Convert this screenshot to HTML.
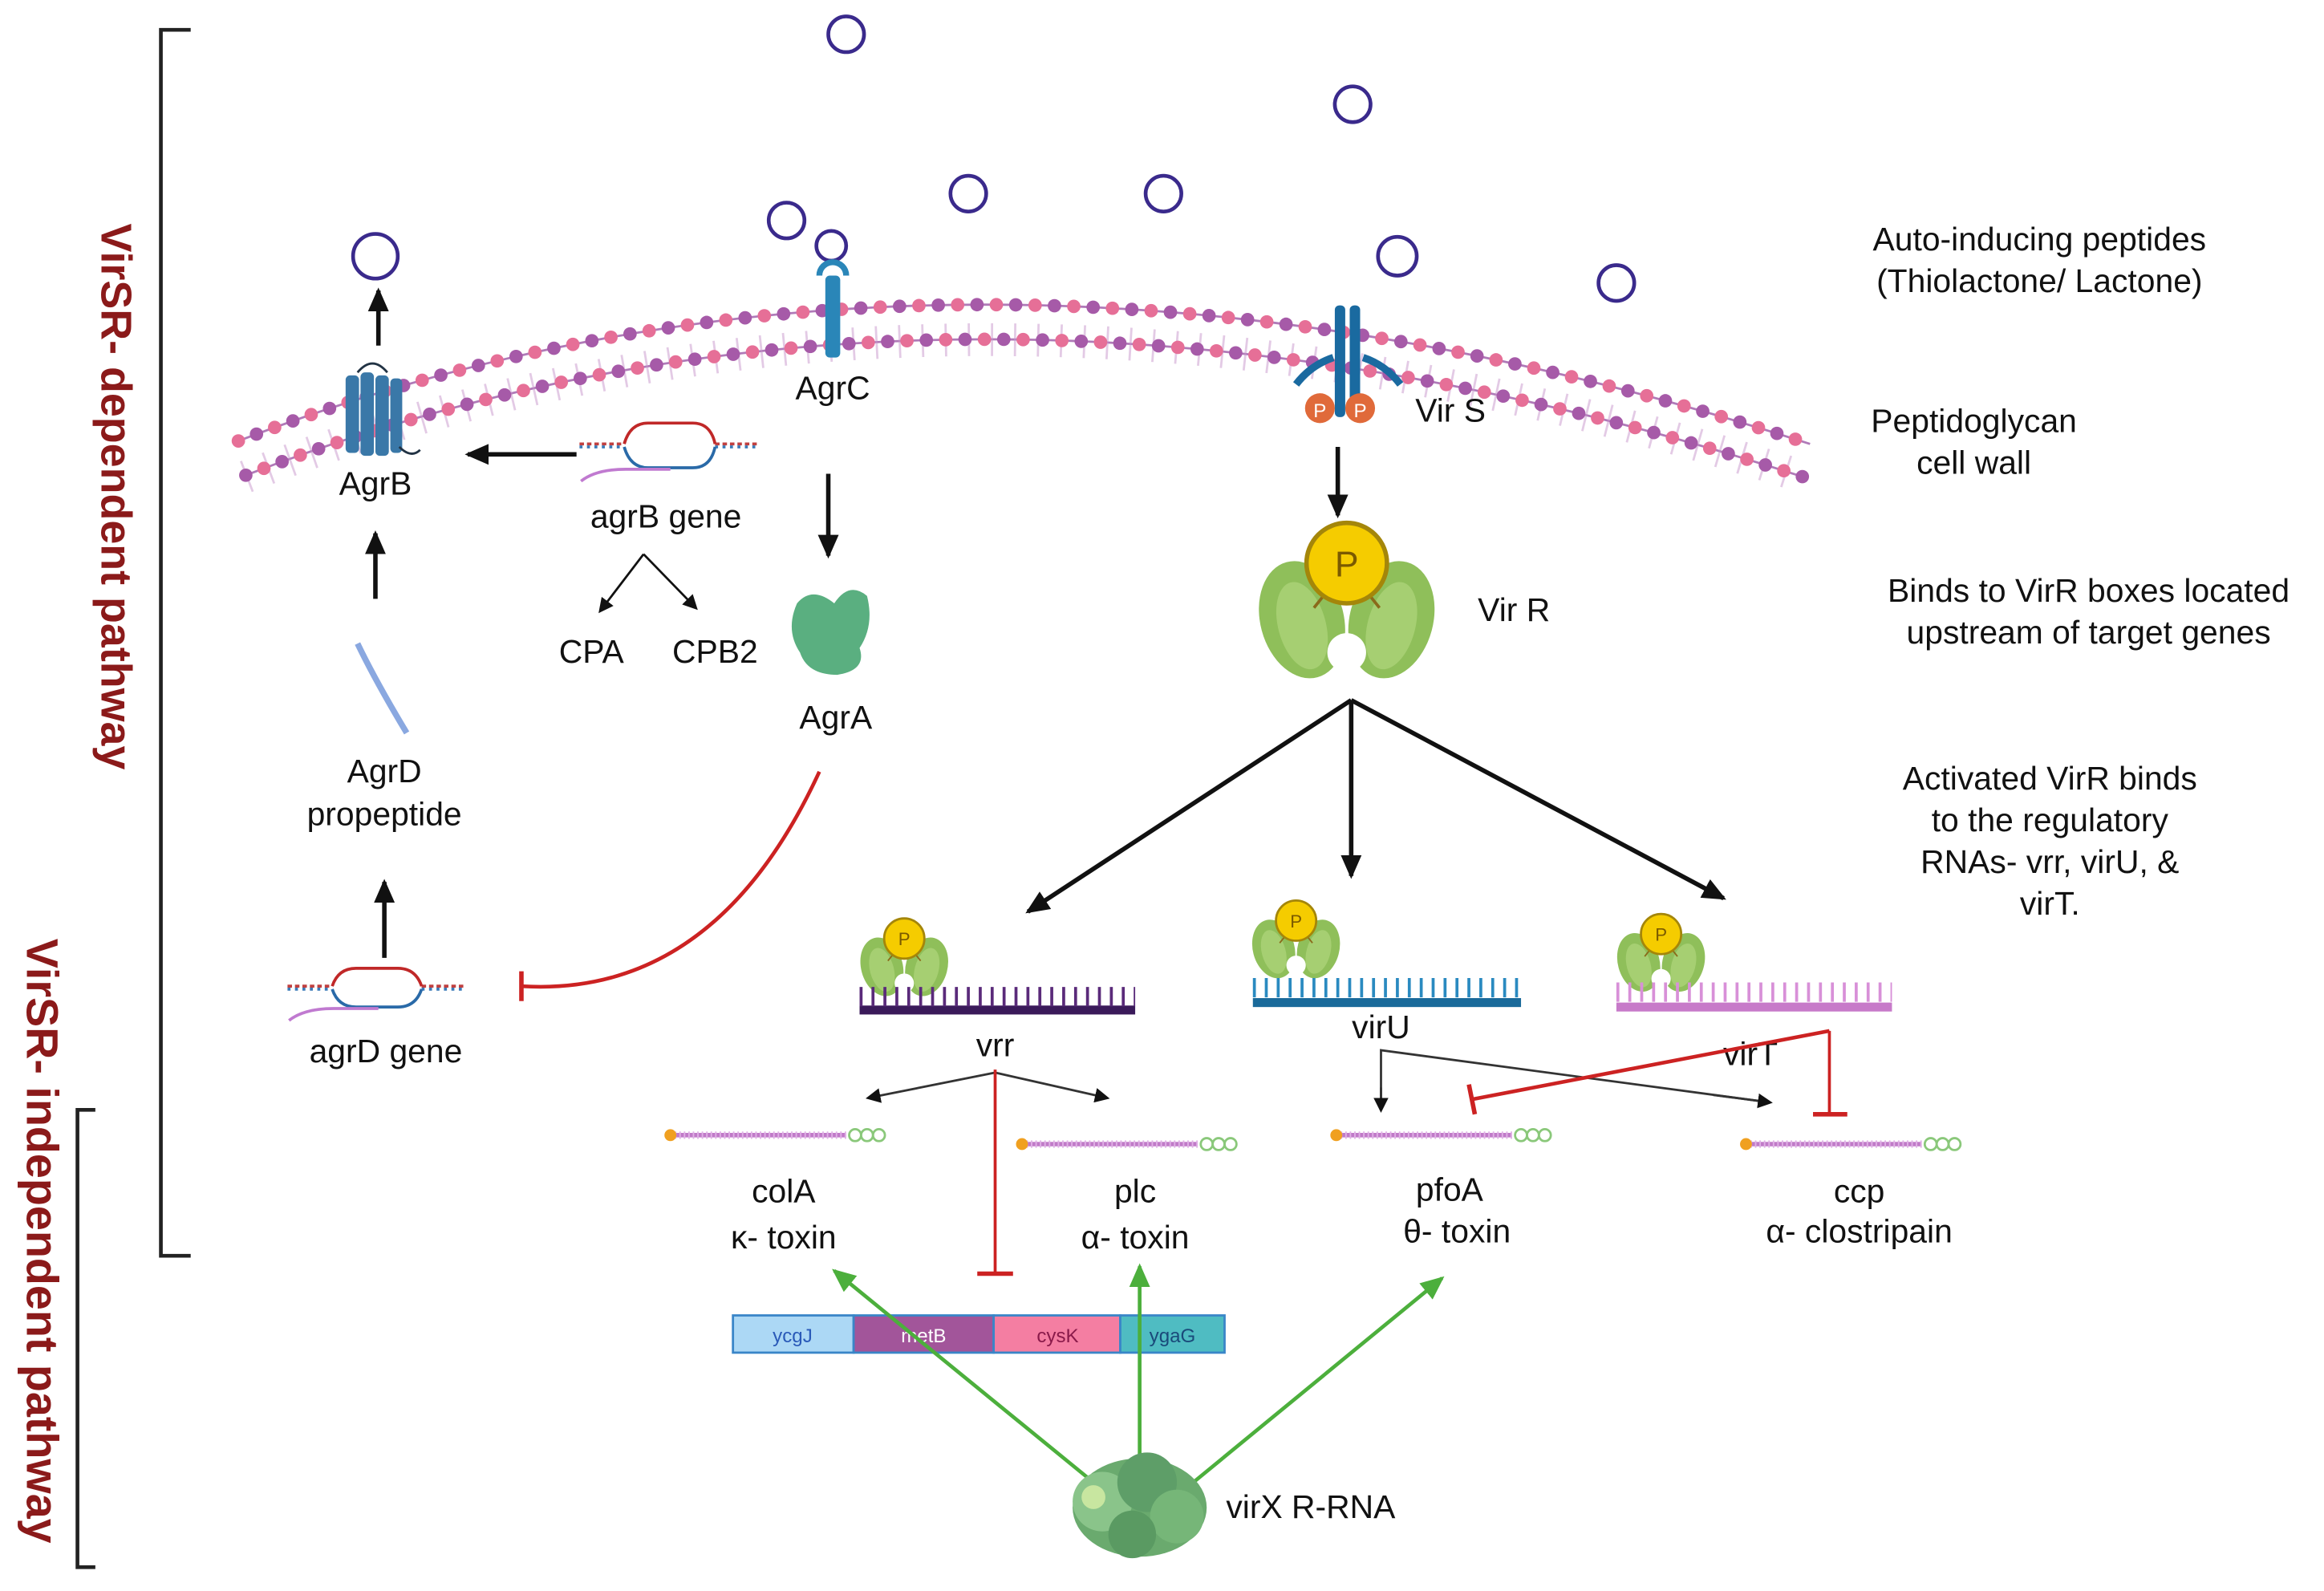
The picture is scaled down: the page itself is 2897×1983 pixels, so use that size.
<!DOCTYPE html>
<html><head><meta charset="utf-8"><style>
html,body{margin:0;padding:0;background:#fff;}
svg{display:block;}
text{font-family:"Liberation Sans",sans-serif;fill:#111;}
</style></head><body>
<svg width="2897" height="1983" viewBox="0 0 1560 1068" preserveAspectRatio="none" xmlns="http://www.w3.org/2000/svg">
<defs>
<marker id="ab" markerWidth="10" markerHeight="10" refX="8" refY="5" orient="auto" markerUnits="userSpaceOnUse"><path d="M0,0 L10,5 L0,10 z" fill="#111"/></marker>
<marker id="abL" markerWidth="16" markerHeight="14" refX="14" refY="7" orient="auto" markerUnits="userSpaceOnUse"><path d="M0,0 L16,7 L0,14 z" fill="#111"/></marker>
<marker id="ag" markerWidth="16" markerHeight="14" refX="14" refY="7" orient="auto" markerUnits="userSpaceOnUse"><path d="M0,0 L16,7 L0,14 z" fill="#4caf3c"/></marker>
<g id="vr">
<ellipse cx="-30" cy="18" rx="28" ry="40" fill="#8fbf5a" transform="rotate(-15 -30 18)"/>
<ellipse cx="30" cy="18" rx="28" ry="40" fill="#8fbf5a" transform="rotate(15 30 18)"/>
<ellipse cx="-30" cy="22" rx="16" ry="30" fill="#a6cf72" transform="rotate(-15 -30 22)"/>
<ellipse cx="30" cy="22" rx="16" ry="30" fill="#a6cf72" transform="rotate(15 30 22)"/>
<circle cx="0" cy="40" r="13" fill="#fff"/>
<line x1="-10" y1="-5" x2="-22" y2="10" stroke="#8a6a1a" stroke-width="2"/>
<line x1="10" y1="-5" x2="22" y2="10" stroke="#8a6a1a" stroke-width="2"/>
<circle cx="0" cy="-20" r="27" fill="#f5cc00" stroke="#a4860a" stroke-width="3"/>
<text x="0" y="-11" font-size="24" text-anchor="middle" style="fill:#7a5a00">P</text>
</g>
<g id="tg">
<line x1="0" y1="0" x2="118" y2="0" stroke="#c07ac8" stroke-width="3"/>
<line x1="0" y1="0" x2="118" y2="0" stroke="#e0b0e6" stroke-width="5" stroke-dasharray="1 2"/>
<circle cx="0" cy="0" r="4" fill="#f0a020"/>
<circle cx="124" cy="0" r="4" fill="none" stroke="#8ac87a" stroke-width="1.5"/>
<circle cx="132" cy="0" r="4" fill="none" stroke="#8ac87a" stroke-width="1.5"/>
<circle cx="140" cy="0" r="4" fill="none" stroke="#8ac87a" stroke-width="1.5"/>
</g>
</defs>

<!-- brackets -->
<path d="M128,20 H108 V843 H128" fill="none" stroke="#222" stroke-width="2.5"/>
<path d="M64,745 H52 V1052 H64" fill="none" stroke="#222" stroke-width="2.5"/>
<text transform="translate(68,150) rotate(90)" font-size="29" font-weight="bold" style="fill:#8b1a1a">VirSR- dependent pathway</text>
<text transform="translate(18,630) rotate(90)" font-size="30" font-weight="bold" style="fill:#8b1a1a">VirSR- independent pathway</text>

<!-- membrane -->
<path d="M160,296 Q640,112 1215,298" fill="none" stroke="#b07ab8" stroke-width="1.5"/>
<path d="M165,319 Q640,136 1210,320" fill="none" stroke="#b07ab8" stroke-width="1.5"/>
<path d="M165,320 Q640,136 1210,320" fill="none" stroke="#c896cc" stroke-width="22" stroke-dasharray="1.5 14" opacity="0.5"/>
<path d="M160,296 Q640,112 1215,298" fill="none" stroke="#e66f97" stroke-width="9" stroke-dasharray="0 26" stroke-linecap="round"/>
<path d="M160,296 Q640,112 1215,298" fill="none" stroke="#a65aa8" stroke-width="9" stroke-dasharray="0 26" stroke-dashoffset="13" stroke-linecap="round"/>
<path d="M165,319 Q640,136 1210,320" fill="none" stroke="#a65aa8" stroke-width="9" stroke-dasharray="0 26" stroke-linecap="round"/>
<path d="M165,319 Q640,136 1210,320" fill="none" stroke="#e66f97" stroke-width="9" stroke-dasharray="0 26" stroke-dashoffset="13" stroke-linecap="round"/>

<!-- peptides -->
<g fill="none" stroke="#3a2a8c" stroke-width="2.5">
<circle cx="568" cy="23" r="12"/><circle cx="908" cy="70" r="12"/><circle cx="650" cy="130" r="12"/>
<circle cx="781" cy="130" r="12"/><circle cx="528" cy="148" r="12"/><circle cx="558" cy="165" r="10"/>
<circle cx="938" cy="172" r="13"/><circle cx="1085" cy="190" r="12"/><circle cx="252" cy="172" r="15"/>
</g>

<!-- AgrB -->
<g fill="#3a78a8">
<rect x="232" y="252" width="9" height="52" rx="3"/><rect x="242" y="250" width="9" height="56" rx="3"/>
<rect x="252" y="252" width="9" height="54" rx="3"/><rect x="262" y="254" width="8" height="50" rx="3"/>
</g>
<path d="M240,250 q10,-12 20,0 M268,300 q8,8 14,2" fill="none" stroke="#234" stroke-width="1.5"/>
<text x="252" y="332" font-size="22" text-anchor="middle">AgrB</text>
<line x1="254" y1="232" x2="254" y2="195" stroke="#111" stroke-width="3" marker-end="url(#abL)"/>
<line x1="252" y1="402" x2="252" y2="358" stroke="#111" stroke-width="3" marker-end="url(#abL)"/>
<line x1="387" y1="305" x2="314" y2="305" stroke="#111" stroke-width="3" marker-end="url(#abL)"/>

<!-- AgrC -->
<rect x="554" y="185" width="10" height="55" rx="3" fill="#2a86b8"/>
<path d="M550,185 a9,9 0 1,1 18,0" fill="none" stroke="#2a86b8" stroke-width="4"/>
<text x="559" y="268" font-size="22" text-anchor="middle">AgrC</text>
<line x1="556" y1="318" x2="556" y2="373" stroke="#111" stroke-width="3" marker-end="url(#abL)"/>
<!-- AgrA -->
<path d="M535,405 q10,-12 25,0 q10,-15 22,-5 q5,20 -5,35 q5,15 -15,18 q-20,0 -25,-15 q-10,-15 -2,-33z" fill="#5aaf80"/>
<text x="561" y="489" font-size="22" text-anchor="middle">AgrA</text>

<!-- agrB gene -->
<path d="M389,298 h30 M480,298 h30" stroke="#c04040" stroke-width="2" stroke-dasharray="3 2"/>
<path d="M389,300 h30 M480,300 h30" stroke="#3a7ab8" stroke-width="2" stroke-dasharray="2 3"/>
<path d="M419,298 q4,-14 16,-14 h30 q12,0 15,14" fill="none" stroke="#c02828" stroke-width="2"/>
<path d="M419,300 q4,14 16,14 h30 q12,0 15,-14" fill="none" stroke="#2a6aa8" stroke-width="2"/>
<path d="M390,323 q10,-8 30,-8 h30" fill="none" stroke="#c07ad0" stroke-width="2"/>
<text x="447" y="354" font-size="22" text-anchor="middle">agrB gene</text>
<line x1="432" y1="372" x2="403" y2="410" stroke="#111" stroke-width="1.5" marker-end="url(#ab)"/>
<line x1="432" y1="372" x2="467" y2="408" stroke="#111" stroke-width="1.5" marker-end="url(#ab)"/>
<text x="397" y="445" font-size="22" text-anchor="middle">CPA</text>
<text x="480" y="445" font-size="22" text-anchor="middle">CPB2</text>

<!-- AgrD propeptide -->
<path d="M240,432 q12,25 33,60" stroke="#8aa8e0" stroke-width="4" fill="none"/>
<text x="258" y="525" font-size="22" text-anchor="middle">AgrD</text>
<text x="258" y="554" font-size="22" text-anchor="middle">propeptide</text>
<line x1="258" y1="643" x2="258" y2="592" stroke="#111" stroke-width="3" marker-end="url(#abL)"/>
<!-- agrD gene -->
<path d="M193,662 h30 M283,662 h30" stroke="#c04040" stroke-width="2" stroke-dasharray="3 2"/>
<path d="M193,664 h30 M283,664 h30" stroke="#3a7ab8" stroke-width="2" stroke-dasharray="2 3"/>
<path d="M223,662 q4,-12 16,-12 h28 q12,0 16,12" fill="none" stroke="#c02828" stroke-width="2"/>
<path d="M223,664 q4,12 16,12 h28 q12,0 16,-12" fill="none" stroke="#2a6aa8" stroke-width="2"/>
<path d="M194,685 q10,-8 30,-8 h30" fill="none" stroke="#c07ad0" stroke-width="2"/>
<text x="259" y="713" font-size="22" text-anchor="middle">agrD gene</text>
<path d="M550,518 Q480,670 350,662" fill="none" stroke="#cc2222" stroke-width="2.5"/>
<line x1="350" y1="652" x2="350" y2="672" stroke="#cc2222" stroke-width="3"/>

<!-- VirS -->
<rect x="896" y="205" width="7" height="75" rx="3" fill="#1a6aa0"/>
<rect x="906" y="205" width="7" height="75" rx="3" fill="#1a6aa0"/>
<path d="M895,240 q-15,5 -25,18 M915,240 q15,5 25,18" fill="none" stroke="#1a6aa0" stroke-width="5"/>
<circle cx="886" cy="274" r="10" fill="#e06a3a"/><circle cx="913" cy="274" r="10" fill="#e06a3a"/>
<text x="886" y="280" font-size="13" text-anchor="middle" style="fill:#fff">P</text>
<text x="913" y="280" font-size="13" text-anchor="middle" style="fill:#fff">P</text>
<text x="950" y="283" font-size="22">Vir S</text>
<line x1="898" y1="300" x2="898" y2="346" stroke="#111" stroke-width="3" marker-end="url(#abL)"/>

<!-- VirR big -->
<use href="#vr" transform="translate(904,398)"/>
<text x="992" y="417" font-size="22">Vir R</text>
<line x1="907" y1="470" x2="690" y2="612" stroke="#111" stroke-width="3" marker-end="url(#abL)"/>
<line x1="907" y1="470" x2="907" y2="588" stroke="#111" stroke-width="3" marker-end="url(#abL)"/>
<line x1="907" y1="470" x2="1157" y2="603" stroke="#111" stroke-width="3" marker-end="url(#abL)"/>

<!-- small VirR + combs -->
<use href="#vr" transform="translate(607,640) scale(0.5)"/>
<use href="#vr" transform="translate(870,628) scale(0.5)"/>
<use href="#vr" transform="translate(1115,637) scale(0.5)"/>
<rect x="577" y="675" width="185" height="6" fill="#3a1a5a"/>
<line x1="577" y1="669" x2="762" y2="669" stroke="#5a2a7a" stroke-width="13" stroke-dasharray="2 6"/>
<rect x="841" y="670" width="180" height="6" fill="#1a6a9a"/>
<line x1="841" y1="663" x2="1021" y2="663" stroke="#2a8ac0" stroke-width="13" stroke-dasharray="2 6"/>
<rect x="1085" y="673" width="185" height="6" fill="#c77ac9"/>
<line x1="1085" y1="666" x2="1270" y2="666" stroke="#d890d8" stroke-width="13" stroke-dasharray="2 6"/>
<text x="668" y="709" font-size="22" text-anchor="middle">vrr</text>
<text x="927" y="697" font-size="22" text-anchor="middle">virU</text>
<text x="1175" y="715" font-size="22" text-anchor="middle">virT</text>

<!-- vrr arrows -->
<line x1="668" y1="720" x2="583" y2="737" stroke="#333" stroke-width="1.5" marker-end="url(#ab)"/>
<line x1="668" y1="720" x2="743" y2="737" stroke="#333" stroke-width="1.5" marker-end="url(#ab)"/>
<line x1="668" y1="718" x2="668" y2="855" stroke="#cc2222" stroke-width="2"/>
<line x1="656" y1="855" x2="680" y2="855" stroke="#cc2222" stroke-width="3"/>
<!-- virU arrows -->
<polyline points="927,745 927,705 1188,740" fill="none" stroke="#333" stroke-width="1.5"/>
<line x1="927" y1="730" x2="927" y2="745" stroke="#333" stroke-width="1.5" marker-end="url(#ab)"/>
<line x1="1150" y1="735" x2="1188" y2="740" stroke="#333" stroke-width="1.5" marker-end="url(#ab)"/>
<!-- virT inhibitions -->
<line x1="1228" y1="692" x2="988" y2="738" stroke="#cc2222" stroke-width="2.5"/>
<line x1="986" y1="728" x2="990" y2="748" stroke="#cc2222" stroke-width="3"/>
<line x1="1228" y1="692" x2="1228" y2="748" stroke="#cc2222" stroke-width="2"/>
<line x1="1217" y1="748" x2="1240" y2="748" stroke="#cc2222" stroke-width="3"/>

<!-- target genes -->
<use href="#tg" transform="translate(450,762)"/>
<use href="#tg" transform="translate(686,768)"/>
<use href="#tg" transform="translate(897,762)"/>
<use href="#tg" transform="translate(1172,768)"/>
<text x="526" y="807" font-size="22" text-anchor="middle">colA</text>
<text x="526" y="838" font-size="22" text-anchor="middle">κ- toxin</text>
<text x="762" y="807" font-size="22" text-anchor="middle">plc</text>
<text x="762" y="838" font-size="22" text-anchor="middle">α- toxin</text>
<text x="973" y="806" font-size="22" text-anchor="middle">pfoA</text>
<text x="978" y="834" font-size="22" text-anchor="middle">θ- toxin</text>
<text x="1248" y="807" font-size="22" text-anchor="middle">ccp</text>
<text x="1248" y="834" font-size="22" text-anchor="middle">α- clostripain</text>

<!-- gene bar -->
<rect x="492" y="883" width="81" height="25" fill="#acd8f5" stroke="#3a86c8" stroke-width="1.5"/>
<rect x="573" y="883" width="94" height="25" fill="#a2559a" stroke="#3a86c8" stroke-width="1.5"/>
<rect x="667" y="883" width="85" height="25" fill="#f47ea2" stroke="#3a86c8" stroke-width="1.5"/>
<rect x="752" y="883" width="70" height="25" fill="#4fbcc2" stroke="#3a86c8" stroke-width="1.5"/>
<text x="532" y="901" font-size="13" text-anchor="middle" style="fill:#2a5ab8">ycgJ</text>
<text x="620" y="901" font-size="13" text-anchor="middle" style="fill:#fff">metB</text>
<text x="710" y="901" font-size="13" text-anchor="middle" style="fill:#8a1a4a">cysK</text>
<text x="787" y="901" font-size="13" text-anchor="middle" style="fill:#1a4a7a">ygaG</text>

<!-- green arrows -->
<line x1="740" y1="1000" x2="560" y2="853" stroke="#4caf3c" stroke-width="2.5" marker-end="url(#ag)"/>
<line x1="765" y1="980" x2="765" y2="850" stroke="#4caf3c" stroke-width="2.5" marker-end="url(#ag)"/>
<line x1="795" y1="1000" x2="968" y2="858" stroke="#4caf3c" stroke-width="2.5" marker-end="url(#ag)"/>

<!-- virX -->
<g>
<ellipse cx="765" cy="1012" rx="45" ry="33" fill="#6aaa6e"/>
<circle cx="740" cy="1008" r="20" fill="#8ac48a"/>
<circle cx="770" cy="995" r="20" fill="#5e9e68"/>
<circle cx="790" cy="1018" r="18" fill="#76b678"/>
<circle cx="760" cy="1030" r="16" fill="#5a9a62"/>
<circle cx="734" cy="1005" r="8" fill="#c8e6a0"/>
</g>
<text x="823" y="1019" font-size="22">virX R-RNA</text>

<!-- right text -->
<g font-size="22" text-anchor="middle">
<text x="1369" y="168">Auto-inducing peptides</text>
<text x="1369" y="196">(Thiolactone/ Lactone)</text>
<text x="1325" y="290">Peptidoglycan</text>
<text x="1325" y="318">cell wall</text>
<text x="1402" y="404">Binds to VirR boxes located</text>
<text x="1402" y="432">upstream of target genes</text>
<text x="1376" y="530">Activated VirR binds</text>
<text x="1376" y="558">to the regulatory</text>
<text x="1376" y="586">RNAs- vrr, virU, &amp;</text>
<text x="1376" y="614">virT.</text>
</g>
</svg>
</body></html>
